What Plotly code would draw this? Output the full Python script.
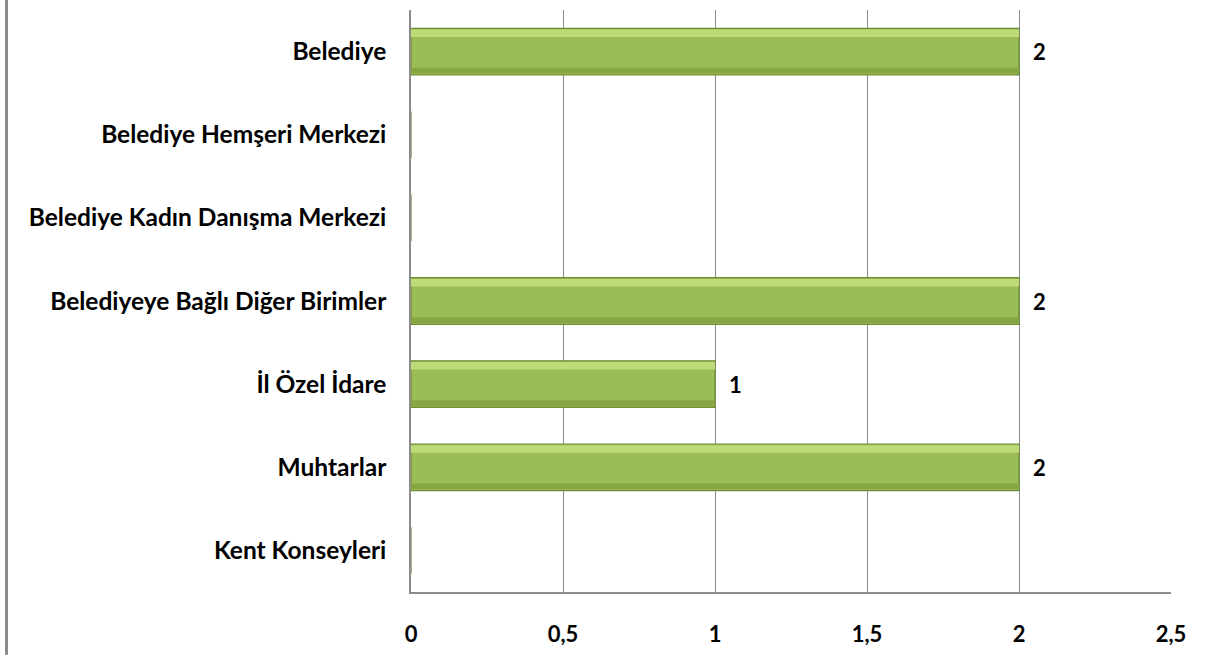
import plotly.graph_objects as go

categories = [
    "Belediye",
    "Belediye Hemşeri Merkezi",
    "Belediye Kadın Danışma Merkezi",
    "Belediyeye Bağlı Diğer Birimler",
    "İl Özel İdare",
    "Muhtarlar",
    "Kent Konseyleri",
]
values = [2, 0, 0, 2, 1, 2, 0]
tick_vals = [0, 0.5, 1, 1.5, 2, 2.5]
tick_text = ["0", "0,5", "1", "1,5", "2", "2,5"]

FONT = "Lato"
BW = 0.56

fig = go.Figure()
# main bar
fig.add_trace(go.Bar(
    y=categories, x=values, orientation="h",
    width=BW, offset=-BW / 2,
    marker=dict(color="#9bbd55", line=dict(color="#6f8c33", width=1.2)),
    hoverinfo="skip",
))
# top highlight band
fig.add_trace(go.Bar(
    y=categories, x=values, orientation="h",
    width=0.09, offset=-BW / 2 + 0.015,
    marker=dict(color="#bddb78", line=dict(width=0)),
    hoverinfo="skip",
))
# bottom shade band
fig.add_trace(go.Bar(
    y=categories, x=values, orientation="h",
    width=0.07, offset=BW / 2 - 0.085,
    marker=dict(color="#86a643", line=dict(width=0)),
    hoverinfo="skip",
))

for c, v in zip(categories, values):
    if v > 0:
        fig.add_annotation(x=v, y=c, text=str(v), showarrow=False,
                           xanchor="left", xshift=12,
                           font=dict(family=FONT, size=22, color="black", weight="bold"))

fig.update_layout(
    width=1211, height=657,
    margin=dict(l=411, r=40, t=10, b=63),
    paper_bgcolor="white", plot_bgcolor="white",
    showlegend=False,
    barmode="overlay",
)
fig.update_xaxes(
    range=[0, 2.5], tickvals=tick_vals, ticktext=tick_text,
    showgrid=True, gridcolor="#8c8c8c", gridwidth=1,
    showline=True, linecolor="#8c8c8c", linewidth=1.5,
    zeroline=False, ticks="", ticklabelstandoff=22,
    tickfont=dict(family=FONT, size=22, color="black", weight="bold"),
)
fig.update_yaxes(
    categoryorder="array", categoryarray=categories, autorange="reversed",
    showline=True, linecolor="#8c8c8c", linewidth=1.5, showgrid=False,
    ticks="", ticklabelstandoff=18,
    tickfont=dict(family=FONT, size=24.5, color="black", weight="bold"),
)
fig.add_shape(type="line", xref="paper", yref="paper",
              x0=(6.5 - 411) / 760, x1=(6.5 - 411) / 760, y0=-63 / 584, y1=1 + 10 / 584,
              line=dict(color="#8c8c8c", width=3))

fig.write_html("out.html", config={"displayModeBar": False},
               post_script="document.body.style.margin='0px';")
